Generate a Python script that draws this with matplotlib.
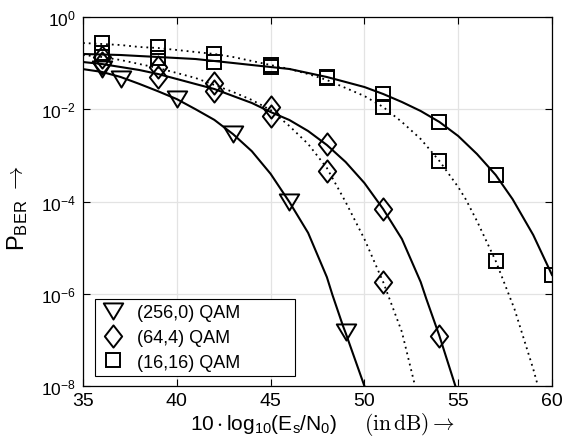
import numpy as np
import matplotlib
matplotlib.use('Agg')
import matplotlib.pyplot as plt
from matplotlib.path import Path
from matplotlib.lines import Line2D

plt.rcParams['font.family'] = ['Liberation Sans', 'DejaVu Sans']
plt.rcParams['mathtext.fontset'] = 'custom'
plt.rcParams['mathtext.rm'] = 'Liberation Sans'
plt.rcParams['mathtext.it'] = 'Liberation Sans'
plt.rcParams['mathtext.sf'] = 'Liberation Sans'

# ---------------- data (log10 of BER) ----------------
# (256,0) QAM
t_curve_x = [35, 36, 37, 38, 39, 40, 41, 42, 43, 44, 45, 46, 47, 48, 48.3, 48.86, 49, 50]
t_curve_e = [-1.13, -1.19, -1.30, -1.45, -1.61, -1.78, -2.00, -2.23, -2.54, -2.91,
             -3.40, -4.01, -4.68, -5.64, -6.03, -6.70, -6.85, -8.0]
t_mark_x = [36, 37, 40, 43, 46, 49]
t_mark_e = [-1.127, -1.344, -1.778, -2.537, -4.011, -6.829]

# (64,4) QAM
ds_curve_x = [35, 36, 37, 38, 39, 40, 41, 42, 43, 44, 45, 46, 47, 48, 49, 50, 51, 52, 53,
              53.3, 54, 54.85]
ds_curve_e = [-0.976, -1.019, -1.084, -1.149, -1.236, -1.344, -1.453, -1.561, -1.713, -1.864,
              -2.060, -2.233, -2.472, -2.775, -3.144, -3.599, -4.163, -4.813, -5.745,
              -6.11, -6.916, -8.0]
ds_mark_x = [36, 39, 42, 45, 48, 51, 54]
ds_mark_e = [-0.997, -1.301, -1.604, -2.146, -2.753, -4.163, -6.916]

dd_curve_x = [35, 36, 37, 38, 39, 40, 41, 42, 43, 44, 45, 46, 47, 48, 49, 50, 51, 51.3, 52, 52.7]
dd_curve_e = [-0.824, -0.867, -0.932, -1.019, -1.106, -1.214, -1.322, -1.474, -1.626, -1.799,
              -2.016, -2.363, -2.753, -3.274, -4.011, -4.813, -5.745, -6.07, -6.829, -8.0]
dd_mark_x = [36, 39, 42, 45, 48, 51]
dd_mark_e = [-0.867, -1.084, -1.431, -1.951, -3.339, -5.745]

# (16,16) QAM
ss_curve_x = [35, 36, 37, 38, 39, 40, 41, 42, 43, 44, 45, 46, 47, 48, 49, 50, 51, 52, 53, 54,
              55, 56, 57, 57.9, 59, 60]
ss_curve_e = [-0.802, -0.813, -0.824, -0.846, -0.867, -0.889, -0.911, -0.954, -0.997, -1.041,
              -1.084, -1.127, -1.214, -1.301, -1.409, -1.518, -1.669, -1.843, -2.038, -2.276,
              -2.580, -2.970, -3.425, -3.95, -4.726, -5.593]
ss_mark_x = [36, 39, 42, 45, 48, 51, 54, 57, 60]
ss_mark_e = [-0.780, -0.889, -0.976, -1.084, -1.301, -1.669, -2.276, -3.425, -5.593]

sd_curve_x = [35, 36, 37, 38, 39, 40, 41, 42, 43, 44, 45, 46, 47, 48, 49, 50, 51, 52, 53, 54,
              55, 55.4, 56, 57, 58, 59, 59.25]
sd_curve_e = [-0.564, -0.585, -0.607, -0.650, -0.672, -0.715, -0.759, -0.802, -0.867, -0.954,
              -1.041, -1.127, -1.236, -1.366, -1.539, -1.713, -1.951, -2.276, -2.645, -3.122,
              -3.686, -3.95, -4.423, -5.290, -6.331, -7.631, -8.0]
sd_mark_x = [36, 39, 42, 45, 48, 51, 54, 57]
sd_mark_e = [-0.564, -0.650, -0.802, -1.041, -1.322, -1.951, -3.122, -5.290]

legend_labels = ['(256,0) QAM', '(64,4) QAM', '(16,16) QAM']
x_ticks = [35, 40, 45, 50, 55, 60]
y_tick_exps = [0, -2, -4, -6, -8]

# ---------------- markers ----------------
C = Path.CLOSEPOLY
tri_marker = Path([(-1, 0.83), (1, 0.83), (0, -0.83), (-1, 0.83)],
                  [Path.MOVETO, Path.LINETO, Path.LINETO, C])
dia_marker = Path([(0, 1), (0.78, 0), (0, -1), (-0.78, 0), (0, 1)],
                  [Path.MOVETO, Path.LINETO, Path.LINETO, Path.LINETO, C])
sq_marker = 's'

W, H = 566, 439
fig = plt.figure(figsize=(W / 100, H / 100), dpi=100)
ax = fig.add_axes([83 / W, 1 - 387 / H, (552 - 83) / W, (387 - 18) / H])

def p(e):
    return np.power(10.0, np.asarray(e, dtype=float))

lw = 1.5
ax.plot(t_curve_x, p(t_curve_e), '-', color='k', lw=lw)
ax.plot(ds_curve_x, p(ds_curve_e), '-', color='k', lw=lw)
ax.plot(ss_curve_x, p(ss_curve_e), '-', color='k', lw=lw)
dot = (0, (1, 2.2))
ax.plot(dd_curve_x, p(dd_curve_e), linestyle=dot, color='k', lw=1.3)
ax.plot(sd_curve_x, p(sd_curve_e), linestyle=dot, color='k', lw=1.3)

mk = dict(linestyle='none', markerfacecolor='none', markeredgecolor='k', markeredgewidth=1.4)
ax.plot(t_mark_x, p(t_mark_e), marker=tri_marker, markersize=14, **mk)
ax.plot(ds_mark_x, p(ds_mark_e), marker=dia_marker, markersize=16, **mk)
ax.plot(dd_mark_x, p(dd_mark_e), marker=dia_marker, markersize=16, **mk)
ax.plot(ss_mark_x, p(ss_mark_e), marker=sq_marker, markersize=10, **mk)
ax.plot(sd_mark_x, p(sd_mark_e), marker=sq_marker, markersize=10, **mk)

ax.set_yscale('log')
ax.set_xlim(35, 60)
ax.set_ylim(1e-8, 1)
ax.set_xticks(x_ticks)
ax.set_xticklabels([str(v) for v in x_ticks], fontsize=14)
ax.set_yticks([10.0 ** e for e in y_tick_exps])
ax.set_yticklabels([r'$\mathregular{10^{%d}}$' % e for e in y_tick_exps], fontsize=12.5)
ax.minorticks_off()
ax.tick_params(direction='in', top=True, right=True, length=5, width=0.8)
ax.tick_params(axis='x', pad=4)
ax.tick_params(axis='y', pad=5)
ax.grid(True, color='#e3e3e3', lw=0.9)
ax.set_axisbelow(True)
for s in ax.spines.values():
    s.set_linewidth(0.9)

handles = [
    Line2D([], [], marker=tri_marker, markersize=14, **mk),
    Line2D([], [], marker=dia_marker, markersize=16, **mk),
    Line2D([], [], marker=sq_marker, markersize=10, **mk),
]
leg = ax.legend(handles, legend_labels, loc='lower left',
                bbox_to_anchor=((95 - 83) / 469, (387 - 377) / 369, (295 - 95) / 469, (377 - 297) / 369),
                mode='expand', fontsize=13, frameon=True, fancybox=False, edgecolor='k',
                framealpha=1, borderpad=0.3, labelspacing=0.42, handlelength=1.4,
                handletextpad=0.6, borderaxespad=0)
leg.get_frame().set_linewidth(0.8)

# y label: P_BER followed by an arrow
fig.text(18 / W, 1 - 225 / H, r'P$_{\mathregular{BER}}$', rotation=90,
         ha='center', va='center', fontsize=17)
fig.text(16 / W, 1 - 180 / H, r'$\rightarrow$', rotation=90,
         ha='center', va='center', fontsize=17, math_fontfamily='cm')

# x label
fig.text(337 / W, 1 - 425 / H, r'$\mathregular{10\cdot log_{10}(E_s/N_0)}$',
         ha='right', va='center', fontsize=15)
fig.text(364 / W, 1 - 425 / H, r'$(\mathrm{in\,dB})\rightarrow$',
         ha='left', va='center', fontsize=15.5, math_fontfamily='cm')

fig.savefig('out.png', dpi=100)
